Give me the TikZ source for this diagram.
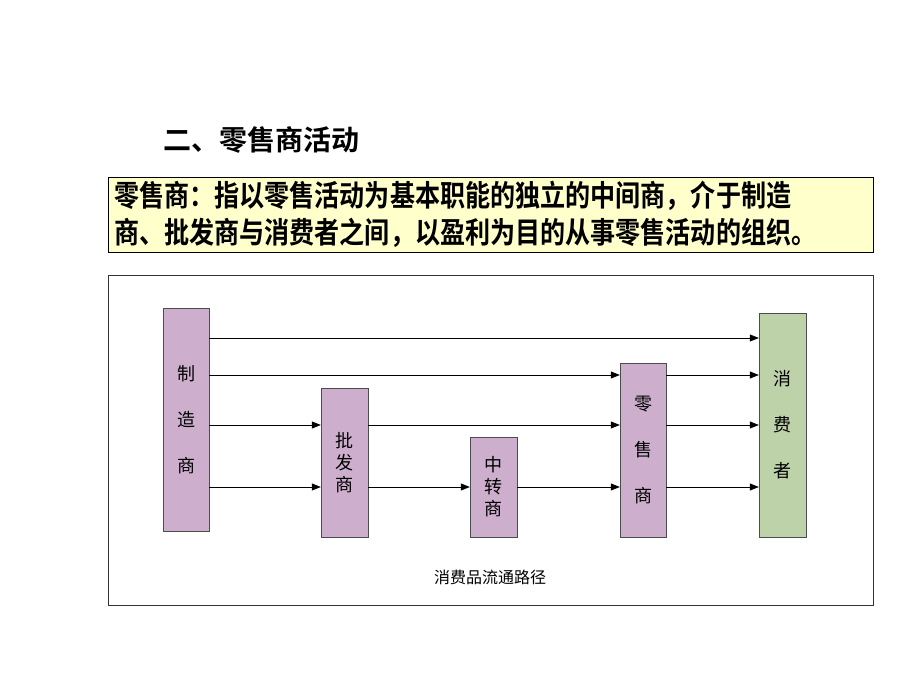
\documentclass[tikz,border=0pt]{standalone}
\usepackage{fontspec}
\setmainfont{Noto Sans CJK SC}
\newfontfamily\cjkbold{Noto Sans CJK SC Bold}
\usetikzlibrary{arrows.meta}
\definecolor{boxpink}{RGB}{205,175,205}
\definecolor{boxgreen}{RGB}{190,210,170}
\definecolor{notefill}{RGB}{255,255,204}
\tikzset{
  flowbox/.style={draw=black!70, fill=boxpink, inner sep=0pt, font=\fontsize{18}{22}\selectfont, align=center},
  flow/.style={-{Triangle[length=9pt,width=7pt]}, black, line width=0.7pt}
}
\begin{document}
\begin{tikzpicture}[x=1pt,y=-1pt]
  \useasboundingbox (0,0) rectangle (920,690);
  % title and note
  \node[anchor=west, font=\cjkbold\fontsize{28}{28}\selectfont] (title) at (160,140) {二、零售商活动};
  \node[draw, fill=notefill, minimum height=75pt, anchor=north west, inner xsep=6pt, inner ysep=2pt,
        text width=753pt, align=left, font=\cjkbold\fontsize{29.5}{37}\selectfont] (note) at (108,177)
        {\scalebox{0.85}[1]{零售商：指以零售活动为基本职能的独立的中间商，介于制造}\\
         \scalebox{0.85}[1]{商、批发商与消费者之间，以盈利为目的从事零售活动的组织。}};
  \draw[black!80] (108,275) rectangle (873,605);
  % boxes
  \node[flowbox, minimum width=46pt, minimum height=223pt] (maker) at (186,419.5) {制\\[24pt]造\\[24pt]商};
  \node[flowbox, minimum width=47pt, minimum height=149pt] (whole) at (344.5,462.5) {批\\发\\商};
  \node[flowbox, minimum width=47pt, minimum height=100pt] (agent) at (493.5,487) {中\\转\\商};
  \node[flowbox, minimum width=46pt, minimum height=174pt] (retail) at (643,450) {零\\[24pt]售\\[24pt]商};
  \node[flowbox, fill=boxgreen, minimum width=47pt, minimum height=224pt] (buyer) at (782.5,425) {消\\[24pt]费\\[24pt]者};
  % flows
  \draw[flow] (maker.east |- 0,338) -- (buyer.west |- 0,338);
  \draw[flow] (maker.east |- 0,375) -- (retail.west |- 0,375);
  \draw[flow] (retail.east |- 0,375) -- (buyer.west |- 0,375);
  \draw[flow] (maker.east |- 0,425) -- (whole.west |- 0,425);
  \draw[flow] (whole.east |- 0,425) -- (retail.west |- 0,425);
  \draw[flow] (retail.east |- 0,425) -- (buyer.west |- 0,425);
  \draw[flow] (maker.east |- 0,487) -- (whole.west |- 0,487);
  \draw[flow] (whole.east |- 0,487) -- (agent.west |- 0,487);
  \draw[flow] (agent.east |- 0,487) -- (retail.west |- 0,487);
  \draw[flow] (retail.east |- 0,487) -- (buyer.west |- 0,487);
  \node[font=\fontsize{16}{16}\selectfont] (caption) at (490,577) {消费品流通路径};
\end{tikzpicture}
\end{document}
